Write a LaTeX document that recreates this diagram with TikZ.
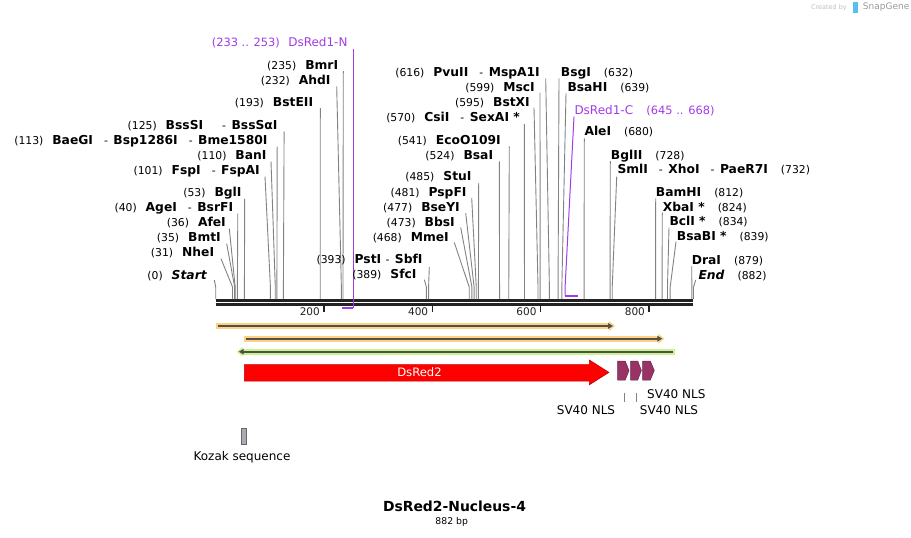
\documentclass[tikz,border=0pt]{standalone}
\usepackage{fontspec}
\setmainfont{DejaVu Sans}
\usetikzlibrary{arrows.meta}

\definecolor{primerc}{RGB}{160,60,230}
\definecolor{cutc}{RGB}{130,130,130}
\definecolor{backc}{RGB}{34,34,34}
\definecolor{orfo}{RGB}{255,210,130}
\definecolor{orfg}{RGB}{200,245,140}
\definecolor{orfl}{RGB}{80,80,80}
\definecolor{nlsc}{RGB}{153,51,102}
\definecolor{kozakc}{RGB}{168,172,176}
\definecolor{snapc}{RGB}{90,190,240}

\newcommand{\nm}{\fontsize{12.3}{14}\selectfont\bfseries}
\newcommand{\nr}{\fontsize{10.8}{13}\selectfont\mdseries}
\newcommand{\lenz}[2]{{\nr(#1)}\hspace{9pt}{\nm #2}}
\newcommand{\renz}[2]{{\nm #1}\hspace{13pt}{\nr(#2)}}
\newcommand{\sep}{\hspace{11pt}{\nr -}\hspace{5.5pt}}
\newcommand{\bp}[1]{215.7+0.5417*#1}

\tikzset{
  enzlab/.style={inner sep=0pt, anchor=base east},
  enzlabr/.style={inner sep=0pt, anchor=base west},
  enzline/.style={draw=cutc, line width=0.9pt},
  primer/.style={draw=primerc, line width=1pt},
  primerbar/.style={draw=primerc, line width=2pt},
  backbone/.style={draw=backc, line width=2.7pt},
  tickmark/.style={draw=backc, line width=1.5pt},
  ticklab/.style={inner sep=0pt, anchor=east, font=\fontsize{10.5}{12}\selectfont, text=backc},
  orfhalo/.style={line width=5.6pt, -{Triangle[length=6pt,width=9.5pt]}},
  orfarrow/.style={draw=orfl, line width=1.7pt, -{Triangle[length=5pt,width=5.5pt]}},
  featlab/.style={inner sep=0pt, font=\fontsize{12}{14}\selectfont},
  nls/.style={fill=nlsc, draw=nlsc!70!black, line width=0.5pt}
}

\begin{document}
\begin{tikzpicture}[x=1pt,y=-1pt]
\useasboundingbox (0,0) rectangle (911,538);

% cut sites, just above the backbone
\coordinate (s0) at ({\bp{0}},287);
\coordinate (s31) at ({\bp{31}},287);
\coordinate (s35) at ({\bp{35}},287);
\coordinate (s36) at ({\bp{36}},287);
\coordinate (s40) at ({\bp{40}},287);
\coordinate (s53) at ({\bp{53}},287);
\coordinate (s101) at ({\bp{101}},287);
\coordinate (s110) at ({\bp{110}},287);
\coordinate (s113) at ({\bp{113}},287);
\coordinate (s125) at ({\bp{125}},287);
\coordinate (s193) at ({\bp{193}},287);
\coordinate (s232) at ({\bp{232}},287);
\coordinate (s235) at ({\bp{235}},287);
\coordinate (s389) at ({\bp{389}},287);
\coordinate (s393) at ({\bp{393}},287);
\coordinate (s468) at ({\bp{468}},287);
\coordinate (s473) at ({\bp{473}},287);
\coordinate (s477) at ({\bp{477}},287);
\coordinate (s481) at ({\bp{481}},287);
\coordinate (s485) at ({\bp{485}},287);
\coordinate (s524) at ({\bp{524}},287);
\coordinate (s541) at ({\bp{541}},287);
\coordinate (s570) at ({\bp{570}},287);
\coordinate (s595) at ({\bp{595}},287);
\coordinate (s599) at ({\bp{599}},287);
\coordinate (s616) at ({\bp{616}},287);
\coordinate (s632) at ({\bp{632}},287);
\coordinate (s639) at ({\bp{639}},287);
\coordinate (s680) at ({\bp{680}},287);
\coordinate (s728) at ({\bp{728}},287);
\coordinate (s732) at ({\bp{732}},287);
\coordinate (s812) at ({\bp{812}},287);
\coordinate (s824) at ({\bp{824}},287);
\coordinate (s834) at ({\bp{834}},287);
\coordinate (s839) at ({\bp{839}},287);
\coordinate (s879) at ({\bp{879}},287);
\coordinate (s882) at ({\bp{882}},287);

% backbone and ruler
\draw[backbone] ({\bp{0}},300.6) -- ({\bp{882}},300.6);
\draw[backbone] ({\bp{0}},304.3) -- ({\bp{882}},304.3);

\draw[tickmark] ({\bp{200}},305.7) -- ++(0,6.6);
\draw[tickmark] ({\bp{400}},305.7) -- ++(0,6.6);
\draw[tickmark] ({\bp{600}},305.7) -- ++(0,6.6);
\draw[tickmark] ({\bp{800}},305.7) -- ++(0,6.6);
\node[ticklab] (t200) at ({\bp{200}-4},311.7) {200};
\node[ticklab] (t400) at ({\bp{400}-4},311.7) {400};
\node[ticklab] (t600) at ({\bp{600}-4},311.7) {600};
\node[ticklab] (t800) at ({\bp{800}-4},311.7) {800};

% primers
\node[enzlab, text=primerc] (dsredN) at (347.7,46.7) {{\fontsize{11.4}{13}\selectfont(233 .. 253)}\hspace{8.3pt}{\fontsize{12}{14}\selectfont DsRed1-N}};
\coordinate (pN1) at (353.3,308.3);
\coordinate (pN2) at ({\bp{233}},308.3);
\draw[primer] ([xshift=5.6pt,yshift=-2pt]dsredN.base east) -- (pN1);
\draw[primerbar] (pN1) -- (pN2);

\node[enzlabr, text=primerc] (dsredC) at (574.3,114.3) {{\fontsize{12}{14}\selectfont DsRed1-C}\hspace{13.3pt}{\fontsize{11.4}{13}\selectfont(645 .. 668)}};
\coordinate (pC1) at ({\bp{645}},287);
\coordinate (pC2) at ({\bp{645}},295.7);
\coordinate (pC3) at ({\bp{668}},295.7);
\draw[primer] ([xshift=-0.3pt,yshift=-2.4pt]dsredC.base west) -- (pC1) -- (pC2);
\draw[primerbar] (pC2) -- (pC3);

% enzymes, left of their line
\node[enzlab] (bmrI) at (338.3,69) {\lenz{235}{BmrI}};
\draw[enzline] ([xshift=5pt,yshift=-2pt]bmrI.base east) -- (s235) -- ++(0,12);
\node[enzlab] (ahdI) at (330.7,84.3) {\lenz{232}{AhdI}};
\draw[enzline] ([xshift=6pt,yshift=-2pt]ahdI.base east) -- (s232) -- ++(0,12);
\node[enzlab] (bstEII) at (313.3,106) {\lenz{193}{BstEII}};
\draw[enzline] ([xshift=7pt,yshift=-2pt]bstEII.base east) -- (s193) -- ++(0,12);
\node[enzlab] (bssSI) at (277.7,129) {\lenz{125}{BssSI\hspace{8pt}\sep BssSαI}};
\draw[enzline] ([xshift=6.4pt,yshift=-2.5pt]bssSI.base east) -- (s125) -- ++(0,12);
\node[enzlab] (baeGI) at (267.7,144) {\lenz{113}{BaeGI\sep Bsp1286I\sep Bme1580I}};
\draw[enzline] ([xshift=9.5pt,yshift=-2.5pt]baeGI.base east) -- (s113) -- ++(0,12);
\node[enzlab] (banI) at (266.7,159.3) {\lenz{110}{BanI}};
\draw[enzline] ([xshift=4.3pt,yshift=-2pt]banI.base east) -- (s110) -- ++(0,12);
\node[enzlab] (fspI) at (260,174) {\lenz{101}{FspI\sep FspAI}};
\draw[enzline] ([xshift=5pt,yshift=-2.5pt]fspI.base east) -- (s101) -- ++(0,12);
\node[enzlab] (bglI) at (241.7,196.7) {\lenz{53}{BglI}};
\draw[enzline] ([xshift=3pt,yshift=-2pt]bglI.base east) -- (s53) -- ++(0,12);
\node[enzlab] (ageI) at (233.3,211.7) {\lenz{40}{AgeI\sep BsrFI}};
\draw[enzline] ([xshift=4.5pt,yshift=-2pt]ageI.base east) -- (s40) -- ++(0,12);
\node[enzlab] (afeI) at (226,226.7) {\lenz{36}{AfeI}};
\draw[enzline] ([xshift=3.3pt,yshift=-2pt]afeI.base east) -- (s36) -- ++(0,12);
\node[enzlab] (bmtI) at (221,241.7) {\lenz{35}{BmtI}};
\draw[enzline] ([xshift=5.7pt,yshift=-2pt]bmtI.base east) -- (s35) -- ++(0,12);
\node[enzlab] (nheI) at (214.3,256.7) {\lenz{31}{NheI}};
\draw[enzline] ([xshift=6.7pt,yshift=-2pt]nheI.base east) -- (s31) -- ++(0,12);
\node[enzlab] (startI) at (207.3,279) {\lenz{0}{\textit{Start}}};
\draw[enzline] ([xshift=7pt,yshift=-1pt]startI.base east) -- (s0) -- ++(0,12);

\node[enzlab] (pvuII) at (540,76) {\lenz{616}{PvuII\sep MspA1I}};
\draw[enzline] ([xshift=5.7pt,yshift=-2.3pt]pvuII.base east) -- (s616) -- ++(0,12);
\node[enzlab] (mscI) at (535,91.7) {\lenz{599}{MscI}};
\draw[enzline] ([xshift=5pt,yshift=-1pt]mscI.base east) -- (s599) -- ++(0,12);
\node[enzlab] (bstXI) at (530,106.7) {\lenz{595}{BstXI}};
\draw[enzline] ([xshift=4pt,yshift=-1pt]bstXI.base east) -- (s595) -- ++(0,12);
\node[enzlab] (csiI) at (520,121.7) {\lenz{570}{CsiI\sep SexAI *}};
\draw[enzline] ([xshift=4.3pt,yshift=-2.3pt]csiI.base east) -- (s570) -- ++(0,12);
\node[enzlab] (ecoO109I) at (501,144.3) {\lenz{541}{EcoO109I}};
\draw[enzline] ([xshift=8.3pt,yshift=-2pt]ecoO109I.base east) -- (s541) -- ++(0,12);
\node[enzlab] (bsaI) at (493.3,159.3) {\lenz{524}{BsaI}};
\draw[enzline] ([xshift=6pt,yshift=-2pt]bsaI.base east) -- (s524) -- ++(0,12);
\node[enzlab] (stuI) at (471.7,180.7) {\lenz{485}{StuI}};
\draw[enzline] ([xshift=7pt,yshift=-2.5pt]stuI.base east) -- (s485) -- ++(0,12);
\node[enzlab] (pspFI) at (466.7,196) {\lenz{481}{PspFI}};
\draw[enzline] ([xshift=5pt,yshift=-2pt]pspFI.base east) -- (s481) -- ++(0,12);
\node[enzlab] (bseYI) at (460,211) {\lenz{477}{BseYI}};
\draw[enzline] ([xshift=5.7pt,yshift=-2pt]bseYI.base east) -- (s477) -- ++(0,12);
\node[enzlab] (bbsI) at (455,226) {\lenz{473}{BbsI}};
\draw[enzline] ([xshift=5.7pt,yshift=-1.5pt]bbsI.base east) -- (s473) -- ++(0,12);
\node[enzlab] (mmeI) at (449,241) {\lenz{468}{MmeI}};
\draw[enzline] ([xshift=5.3pt,yshift=-1.5pt]mmeI.base east) -- (s468) -- ++(0,12);
\node[enzlab] (pstI) at (422.7,263.7) {\lenz{393}{PstI\hspace{-6.7pt}\sep SbfI}};
\draw[enzline] ([xshift=6.6pt,yshift=-3.5pt]pstI.base east) -- (s393) -- ++(0,12);
\node[enzlab] (sfcI) at (416.7,278.7) {\lenz{389}{SfcI}};
\draw[enzline] ([xshift=7.6pt,yshift=-1pt]sfcI.base east) -- (s389) -- ++(0,12);

% enzymes, right of their line
\node[enzlabr] (bsgI) at (560.7,76) {\renz{BsgI}{632}};
\draw[enzline] ([xshift=-1.7pt,yshift=-2.3pt]bsgI.base west) -- (s632) -- ++(0,12);
\node[enzlabr] (bsaHI) at (567.3,91) {\renz{BsaHI}{639}};
\draw[enzline] ([xshift=-1.3pt,yshift=-2.3pt]bsaHI.base west) -- (s639) -- ++(0,12);
\node[enzlabr] (aleI) at (584.3,135.7) {\renz{AleI}{680}};
\draw[enzline] ([yshift=-2.6pt]aleI.base west) -- (s680) -- ++(0,12);
\node[enzlabr] (bglII) at (610.7,159) {\renz{BglII}{728}};
\draw[enzline] ([xshift=-0.4pt,yshift=-2pt]bglII.base west) -- (s728) -- ++(0,12);
\node[enzlabr] (smlI) at (617.3,173.3) {\renz{SmlI\sep XhoI\sep PaeR7I}{732}};
\draw[enzline] ([xshift=-0.6pt,yshift=-3.4pt]smlI.base west) -- (s732) -- ++(0,12);
\node[enzlabr] (bamHI) at (655.7,196) {\renz{BamHI}{812}};
\draw[enzline] ([yshift=-2.3pt]bamHI.base west) -- (s812) -- ++(0,12);
\node[enzlabr] (xbaI) at (662.7,211) {\renz{XbaI *}{824}};
\draw[enzline] ([xshift=-0.4pt,yshift=-1.7pt]xbaI.base west) -- (s824) -- ++(0,12);
\node[enzlabr] (bclI) at (669.3,225.7) {\renz{BclI *}{834}};
\draw[enzline] ([xshift=-0.3pt,yshift=-2pt]bclI.base west) -- (s834) -- ++(0,12);
\node[enzlabr] (bsaBI) at (676.7,240.7) {\renz{BsaBI *}{839}};
\draw[enzline] ([xshift=-0.7pt,yshift=-1pt]bsaBI.base west) -- (s839) -- ++(0,12);
\node[enzlabr] (draI) at (691.7,264) {\renz{DraI}{879}};
\draw[enzline] ([yshift=-2pt]draI.base west) -- (s879) -- ++(0,12);
\node[enzlabr] (endI) at (698.3,279) {\renz{\textit{End}}{882}};
\draw[enzline] ([xshift=-2.6pt,yshift=-1pt]endI.base west) -- (s882) -- ++(0,12);

% ORFs
\draw[orfhalo, orfo] (215.7,326) -- (615,326);
\draw[orfarrow] (217.5,326) -- (613,326);
\draw[orfhalo, orfo] (244,338.7) -- (664.3,338.7);
\draw[orfarrow] (246,338.7) -- (662.3,338.7);
\draw[orfhalo, orfg] (675.2,351.7) -- (236.7,351.7);
\draw[orfarrow] (673.3,351.7) -- (238.7,351.7);

% features
\filldraw[fill=red, draw=red!75!black, line width=0.5pt] (244.3,364.5) -- (589.4,364.5) -- (589.4,360) -- (609,372.4) -- (589.4,384.8) -- (589.4,381) -- (244.3,381) -- cycle;
\node[featlab, text=white, font=\fontsize{11.6}{13}\selectfont] (dsred2) at (419.5,372.6) {DsRed2};

\filldraw[nls] (617.7,361) -- (625.2,361) -- (629,370.5) -- (625.2,380) -- (617.7,380) -- cycle;
\filldraw[nls] (630.6,361) -- (637.7,361) -- (641.4,370.5) -- (637.7,380) -- (630.6,380) -- cycle;
\filldraw[nls] (642.7,361) -- (650.3,361) -- (654.3,370.5) -- (650.3,380) -- (642.7,380) -- cycle;
\coordinate (n1) at (624,392.7);
\coordinate (n2) at (636.7,392.7);
\draw[enzline, line width=0.7pt] (n1) -- ++(0,8.8);
\draw[enzline, line width=0.7pt] (n2) -- ++(0,8.8);
\node[featlab] (nlsA) at (586,409.8) {SV40 NLS};
\node[featlab] (nlsB) at (676.3,394.6) {SV40 NLS};
\node[featlab] (nlsC) at (669,409.8) {SV40 NLS};

\filldraw[fill=kozakc, draw=black!60, line width=0.6pt] (241.6,428.4) rectangle (246.3,444.6);
\node[featlab] (kozak) at (242,457.3) {Kozak sequence};

% title
\node[inner sep=0pt, font=\fontsize{13.9}{15}\selectfont\bfseries] (title) at (454.5,506.7) {DsRed2-Nucleus-4};
\node[inner sep=0pt, font=\fontsize{9.3}{11}\selectfont] (size) at (451.7,522) {882 bp};

% watermark
\node[inner sep=0pt, anchor=east, text=black!25, font=\fontsize{6.5}{8}\selectfont] (created) at (847,7.5) {Created by};
\fill[snapc] (853,2) rectangle (857.5,12.5);
\node[inner sep=0pt, anchor=west, text=black!40, font=\fontsize{9}{11}\selectfont] (snap) at (862.7,7.5) {SnapGene};
\end{tikzpicture}
\end{document}
